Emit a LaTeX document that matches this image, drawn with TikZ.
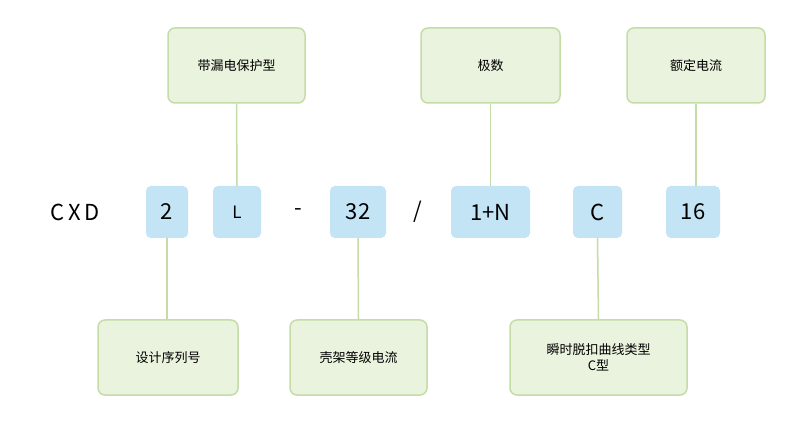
\documentclass[tikz,border=0pt]{standalone}
\usepackage{fontspec}
\setmainfont{Noto Sans CJK SC}
\definecolor{gfill}{HTML}{EAF3DE}
\definecolor{gline}{HTML}{C4DCA6}
\definecolor{bfill}{HTML}{C2E4F4}
\begin{document}
\begin{tikzpicture}[x=1pt,y=-1pt,
 gbox/.style={draw=gline,line width=1.5pt,fill=gfill,rounded corners=7pt,font=\fontsize{13}{16}\selectfont,align=center},
 bbox/.style={fill=bfill,rounded corners=5pt,font=\fontsize{22}{26}\selectfont},
 lnk/.style={draw=gline,line width=1.5pt},
 plain/.style={font=\fontsize{22}{26}\selectfont}]
\useasboundingbox (0,0) rectangle (800,427);
\fill[white] (0,0) rectangle (800,427);
\node[gbox,minimum width=137pt,minimum height=75pt] (t1) at (236.5,65.5) {带漏电保护型};
\node[gbox,minimum width=139pt,minimum height=75pt] (t2) at (490.5,65.5) {极数};
\node[gbox,minimum width=138pt,minimum height=75pt] (t3) at (696,65.5) {额定电流};
\node[plain] (cxd) at (75,212) {C\,X\,D};
\node[bbox,minimum width=42pt,minimum height=52pt] (b2) at (167,212) {2};
\node[bbox,minimum width=48pt,minimum height=52pt,font=\fontsize{17}{20}\selectfont] (bl) at (237,212) {L};
\node[plain] (dash) at (298,212) {-};
\node[bbox,minimum width=56pt,minimum height=52pt] (b32) at (358,212) {32};
\node[plain] (sl) at (418,212) {/};
\node[bbox,minimum width=79pt,minimum height=52pt] (bn) at (490.5,212) {1+N};
\node[bbox,minimum width=49pt,minimum height=52pt] (bc) at (597.5,212) {C};
\node[bbox,minimum width=54pt,minimum height=52pt] (b16) at (693,212) {16};
\node[gbox,minimum width=140pt,minimum height=75pt] (d1) at (168,357.5) {设计序列号};
\node[gbox,minimum width=137pt,minimum height=75pt] (d2) at (358.5,357.5) {壳架等级电流};
\node[gbox,minimum width=177pt,minimum height=75pt] (d3) at (598.5,357.5) {瞬时脱扣曲线类型\\C型};
\draw[lnk] (t1.south) -- (bl.north);
\draw[lnk] (t2.south) -- (bn.north);
\draw[lnk] (t3.south) -- (t3.south |- b16.north);
\draw[lnk] (b2.south) -- (b2.south |- d1.north);
\draw[lnk] (b32.south) -- (d2.north);
\draw[lnk] (bc.south) -- (d3.north);
\end{tikzpicture}
\end{document}
